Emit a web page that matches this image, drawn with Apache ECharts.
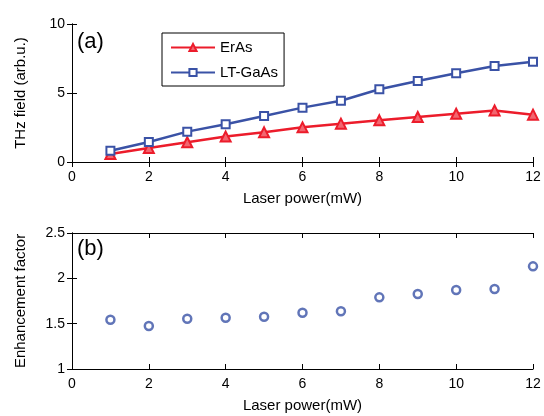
<!DOCTYPE html>
<html><head><meta charset="utf-8">
<script src="https://cdn.jsdelivr.net/npm/echarts@6/dist/echarts.min.js"></script>
<style>html,body{margin:0;padding:0;background:#fff}#c{width:544px;height:416px}</style>
</head><body><div id="c"></div>
<script>
const power = [1,2,3,4,5,6,7,8,9,10,11,12];
const erAs = [0.58,1.01,1.43,1.84,2.15,2.51,2.78,3.02,3.26,3.50,3.74,3.43];
const ltGaAs = [0.82,1.45,2.20,2.73,3.33,3.94,4.44,5.27,5.87,6.43,6.96,7.27];
const enhancement = [1.544,1.474,1.555,1.566,1.577,1.621,1.636,1.79,1.827,1.871,1.882,2.132];
const xTicks = [0,2,4,6,8,10,12];

const FONT = '"Liberation Sans", Arial, Helvetica, sans-serif';
const RED = '#ec1c2b', BLUE = '#3a52a6';
const pair = (xs, ys) => xs.map((x,i)=>[x, ys[i]]);

const axisCommon = {
  axisLine:{show:true, lineStyle:{color:'#000', width:1}},
  axisTick:{show:true, inside:true, length:5, lineStyle:{color:'#000'}},
  splitLine:{show:false},
  axisLabel:{color:'#000', fontFamily:FONT, fontSize:14}
};
function xAx(grid, pos, showLabel, name){
  return Object.assign({}, axisCommon, {
    type:'value', gridIndex:grid, position:pos, min:0, max:12, interval:2,
    name: name||'', nameLocation:'middle', nameGap:29,
    nameTextStyle:{color:'#000', fontFamily:FONT, fontSize:15},
    axisLabel:Object.assign({}, axisCommon.axisLabel, {show:showLabel, margin:8})
  });
}
function yAx(grid, pos, showLabel, min, max, interval, name, fmt){
  return Object.assign({}, axisCommon, {
    type:'value', gridIndex:grid, position:pos, min:min, max:max, interval:interval,
    name: name||'', nameLocation:'middle', nameGap:44,
    nameTextStyle:{color:'#000', fontFamily:FONT, fontSize:15},
    axisLabel:Object.assign({}, axisCommon.axisLabel, {show:showLabel, margin:7, formatter:fmt})
  });
}

const chart = echarts.init(document.getElementById('c'));
chart.setOption({
  backgroundColor:'#fff',
  animation:false,
  grid:[
    {left:72, right:11, top:24, height:138},
    {left:72, right:11, top:233, height:136}
  ],
  xAxis:[
    xAx(0,'bottom',true,'Laser power(mW)'),
    xAx(0,'top',false),
    xAx(1,'bottom',true,'Laser power(mW)'),
    xAx(1,'top',false)
  ],
  yAxis:[
    yAx(0,'left',true,0,10,5,'THz field (arb.u.)'),
    yAx(0,'right',false,0,10,5),
    yAx(1,'left',true,1,2.5,0.5,'Enhancement factor', v=>String(v)),
    yAx(1,'right',false,1,2.5,0.5)
  ],
  legend:{
    left:162, top:33, width:129, height:48,
    orient:'vertical', padding:[7,6,6,8], itemGap:10,
    borderColor:'#000', borderWidth:1, backgroundColor:'#fff',
    itemWidth:44, itemHeight:9,
    textStyle:{color:'#000', fontFamily:FONT, fontSize:15},
    data:['ErAs','LT-GaAs']
  },
  graphic:[
    {type:'text', left:77, top:31, style:{text:'(a)', font:'22px '+FONT, fill:'#000'}},
    {type:'text', left:77, top:238, style:{text:'(b)', font:'22px '+FONT, fill:'#000'}}
  ],
  series:[
    {name:'ErAs', type:'line', xAxisIndex:0, yAxisIndex:0, data:pair(power, erAs),
     lineStyle:{color:RED, width:2.5}, symbol:'triangle', symbolSize:10,
     itemStyle:{color:'#f26670', borderColor:RED, borderWidth:2}},
    {name:'LT-GaAs', type:'line', xAxisIndex:0, yAxisIndex:0, data:pair(power, ltGaAs),
     lineStyle:{color:BLUE, width:2.5}, symbol:'rect', symbolSize:8,
     itemStyle:{color:'#fff', borderColor:BLUE, borderWidth:2}},
    {name:'Enhancement', type:'scatter', xAxisIndex:2, yAxisIndex:2, data:pair(power, enhancement),
     symbol:'circle', symbolSize:8,
     itemStyle:{color:'#fff', borderColor:BLUE, borderWidth:2.5}}
  ]
});
</script></body></html>
